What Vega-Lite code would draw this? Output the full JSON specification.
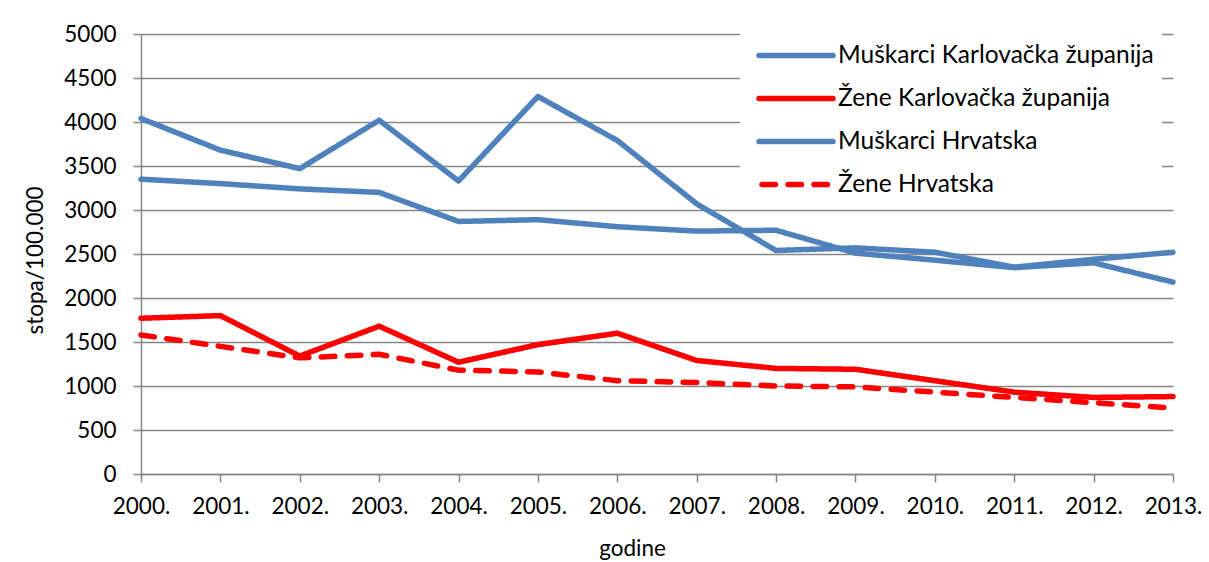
{
  "$schema": "https://vega.github.io/schema/vega-lite/v6.json",
  "width": 1032,
  "height": 440,
  "autosize": {"type": "none"},
  "padding": {"left": 141, "top": 34, "right": 36, "bottom": 88},
  "background": "white",
  "config": {
    "font": "Lato",
    "view": {"stroke": null},
    "legend": {"strokeColor": "white", "strokeWidth": 10},
    "axis": {
      "labelFont": "Lato",
      "labelFontSize": 22.5,
      "labelColor": "#000000",
      "titleFont": "Lato",
      "titleFontSize": 22.5,
      "titleFontWeight": "normal",
      "titleColor": "#000000",
      "domainColor": "#868686",
      "domainWidth": 1.5,
      "tickColor": "#868686",
      "tickWidth": 1.5,
      "tickSize": 8,
      "gridColor": "#868686",
      "gridWidth": 1.5
    }
  },
  "data": {
    "values": [
      {"godina": "2000.", "serija": "Muškarci Karlovačka županija", "stopa": 4040},
      {"godina": "2001.", "serija": "Muškarci Karlovačka županija", "stopa": 3680},
      {"godina": "2002.", "serija": "Muškarci Karlovačka županija", "stopa": 3470},
      {"godina": "2003.", "serija": "Muškarci Karlovačka županija", "stopa": 4020},
      {"godina": "2004.", "serija": "Muškarci Karlovačka županija", "stopa": 3330},
      {"godina": "2005.", "serija": "Muškarci Karlovačka županija", "stopa": 4290},
      {"godina": "2006.", "serija": "Muškarci Karlovačka županija", "stopa": 3790},
      {"godina": "2007.", "serija": "Muškarci Karlovačka županija", "stopa": 3070},
      {"godina": "2008.", "serija": "Muškarci Karlovačka županija", "stopa": 2540},
      {"godina": "2009.", "serija": "Muškarci Karlovačka županija", "stopa": 2570},
      {"godina": "2010.", "serija": "Muškarci Karlovačka županija", "stopa": 2520},
      {"godina": "2011.", "serija": "Muškarci Karlovačka županija", "stopa": 2350},
      {"godina": "2012.", "serija": "Muškarci Karlovačka županija", "stopa": 2440},
      {"godina": "2013.", "serija": "Muškarci Karlovačka županija", "stopa": 2520},
      {"godina": "2000.", "serija": "Žene Karlovačka županija", "stopa": 1770},
      {"godina": "2001.", "serija": "Žene Karlovačka županija", "stopa": 1800},
      {"godina": "2002.", "serija": "Žene Karlovačka županija", "stopa": 1340},
      {"godina": "2003.", "serija": "Žene Karlovačka županija", "stopa": 1680},
      {"godina": "2004.", "serija": "Žene Karlovačka županija", "stopa": 1270},
      {"godina": "2005.", "serija": "Žene Karlovačka županija", "stopa": 1470},
      {"godina": "2006.", "serija": "Žene Karlovačka županija", "stopa": 1600},
      {"godina": "2007.", "serija": "Žene Karlovačka županija", "stopa": 1290},
      {"godina": "2008.", "serija": "Žene Karlovačka županija", "stopa": 1200},
      {"godina": "2009.", "serija": "Žene Karlovačka županija", "stopa": 1190},
      {"godina": "2010.", "serija": "Žene Karlovačka županija", "stopa": 1060},
      {"godina": "2011.", "serija": "Žene Karlovačka županija", "stopa": 930},
      {"godina": "2012.", "serija": "Žene Karlovačka županija", "stopa": 870},
      {"godina": "2013.", "serija": "Žene Karlovačka županija", "stopa": 880},
      {"godina": "2000.", "serija": "Muškarci Hrvatska", "stopa": 3350},
      {"godina": "2001.", "serija": "Muškarci Hrvatska", "stopa": 3300},
      {"godina": "2002.", "serija": "Muškarci Hrvatska", "stopa": 3240},
      {"godina": "2003.", "serija": "Muškarci Hrvatska", "stopa": 3200},
      {"godina": "2004.", "serija": "Muškarci Hrvatska", "stopa": 2870},
      {"godina": "2005.", "serija": "Muškarci Hrvatska", "stopa": 2890},
      {"godina": "2006.", "serija": "Muškarci Hrvatska", "stopa": 2810},
      {"godina": "2007.", "serija": "Muškarci Hrvatska", "stopa": 2760},
      {"godina": "2008.", "serija": "Muškarci Hrvatska", "stopa": 2770},
      {"godina": "2009.", "serija": "Muškarci Hrvatska", "stopa": 2510},
      {"godina": "2010.", "serija": "Muškarci Hrvatska", "stopa": 2430},
      {"godina": "2011.", "serija": "Muškarci Hrvatska", "stopa": 2345},
      {"godina": "2012.", "serija": "Muškarci Hrvatska", "stopa": 2400},
      {"godina": "2013.", "serija": "Muškarci Hrvatska", "stopa": 2180},
      {"godina": "2000.", "serija": "Žene Hrvatska", "stopa": 1580},
      {"godina": "2001.", "serija": "Žene Hrvatska", "stopa": 1450},
      {"godina": "2002.", "serija": "Žene Hrvatska", "stopa": 1320},
      {"godina": "2003.", "serija": "Žene Hrvatska", "stopa": 1360},
      {"godina": "2004.", "serija": "Žene Hrvatska", "stopa": 1180},
      {"godina": "2005.", "serija": "Žene Hrvatska", "stopa": 1160},
      {"godina": "2006.", "serija": "Žene Hrvatska", "stopa": 1060},
      {"godina": "2007.", "serija": "Žene Hrvatska", "stopa": 1040},
      {"godina": "2008.", "serija": "Žene Hrvatska", "stopa": 1000},
      {"godina": "2009.", "serija": "Žene Hrvatska", "stopa": 990},
      {"godina": "2010.", "serija": "Žene Hrvatska", "stopa": 930},
      {"godina": "2011.", "serija": "Žene Hrvatska", "stopa": 870},
      {"godina": "2012.", "serija": "Žene Hrvatska", "stopa": 810},
      {"godina": "2013.", "serija": "Žene Hrvatska", "stopa": 750}
    ]
  },
  "mark": {"type": "line", "strokeWidth": 5.5, "strokeCap": "round", "strokeJoin": "round"},
  "encoding": {
    "x": {
      "field": "godina",
      "type": "ordinal",
      "scale": {"type": "point", "padding": 0},
      "axis": {
        "title": "godine",
        "labelAngle": 0,
        "labelPadding": 13,
        "grid": false,
        "titleX": 491,
        "titleY": 81,
        "titleBaseline": "alphabetic",
        "titleAlign": "center"
      }
    },
    "y": {
      "field": "stopa",
      "type": "quantitative",
      "scale": {"domain": [0, 5000]},
      "axis": {
        "title": "stopa/100.000",
        "values": [0, 500, 1000, 1500, 2000, 2500, 3000, 3500, 4000, 4500, 5000],
        "format": "d",
        "grid": true,
        "labelPadding": 17,
        "titleAngle": -90,
        "titleX": -99,
        "titleY": 226,
        "titleBaseline": "alphabetic",
        "titleAlign": "center"
      }
    },
    "color": {
      "field": "serija",
      "type": "nominal",
      "scale": {
        "domain": ["Muškarci Karlovačka županija", "Žene Karlovačka županija", "Muškarci Hrvatska", "Žene Hrvatska"],
        "range": ["#4F81BD", "#FF0000", "#4F81BD", "#FF0000"]
      },
      "legend": {
        "title": null,
        "orient": "none",
        "legendX": 604,
        "legendY": -13,
        "fillColor": "white",
        "padding": 3,
        "symbolOffset": 16.5,
        "symbolType": "M-1.287,0H1.287",
        "symbolSize": 3306,
        "symbolStrokeWidth": 5.5,
        "labelFont": "Lato",
        "labelFontSize": 24.5,
        "labelColor": "#000000",
        "labelOffset": 10.5,
        "labelLimit": 0,
        "rowPadding": 0,
        "encode": {
          "symbols": {
            "update": {
              "strokeCap": {"value": "round"},
              "strokeDashOffset": {"value": -3}
            }
          }
        }
      }
    },
    "strokeDash": {
      "field": "serija",
      "type": "nominal",
      "scale": {
        "domain": ["Muškarci Karlovačka županija", "Žene Karlovačka županija", "Muškarci Hrvatska", "Žene Hrvatska"],
        "range": [[1, 0], [1, 0], [1, 0], [13.5, 12.5]]
      }
    }
  }
}
